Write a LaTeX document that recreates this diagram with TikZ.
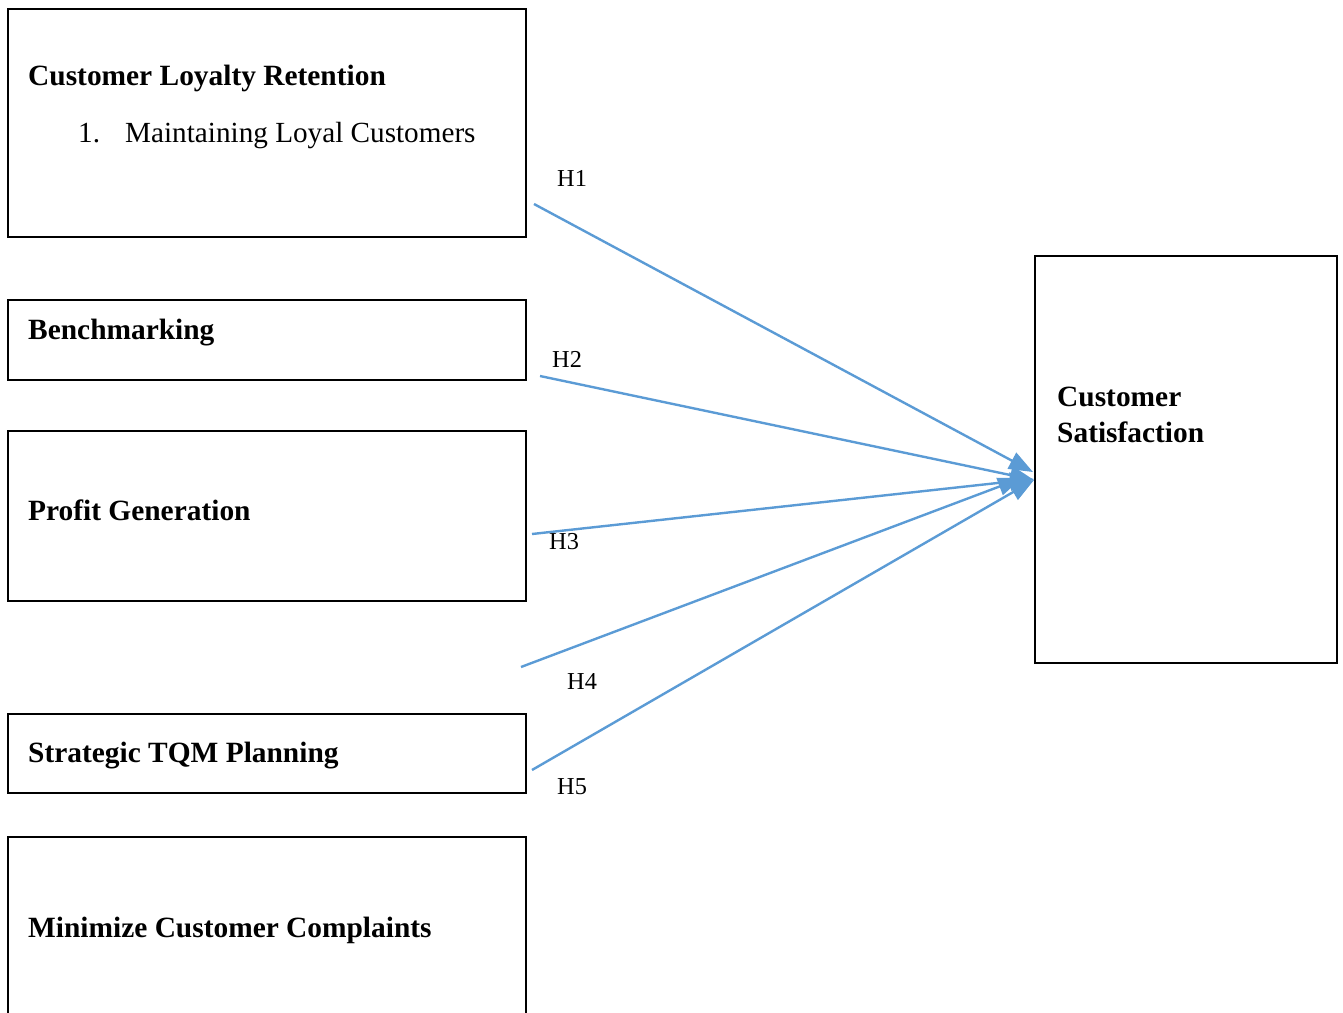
\documentclass[tikz,border=0pt]{standalone}
\usepackage{fontspec}
\setmainfont{Liberation Serif}
\usetikzlibrary{arrows.meta}
\definecolor{arrowblue}{HTML}{5B9BD5}
\begin{document}
\begin{tikzpicture}[x=1pt,y=-1pt,
  box/.style={draw=black,line width=1.8pt,rectangle,inner sep=0pt},
  ttl/.style={anchor=base west,inner sep=0pt,font=\fontsize{29.4}{35}\selectfont\bfseries},
  txt/.style={anchor=base west,inner sep=0pt,font=\fontsize{29.2}{35}\selectfont},
  hyp/.style={anchor=base west,inner sep=0pt,font=\fontsize{24.3}{28}\selectfont},
  link/.style={draw=arrowblue,line width=2.4pt,-{Triangle[length=24pt,width=18pt]}}]
\useasboundingbox (0,0) rectangle (1343,1012);
% boxes
\node[box,minimum width=518pt,minimum height=228pt] (b1) at (267,123) {};
\node[box,minimum width=518pt,minimum height=80pt] (b2) at (267,340) {};
\node[box,minimum width=518pt,minimum height=170pt] (b3) at (267,516) {};
\node[box,minimum width=518pt,minimum height=79pt] (b4) at (267,753.5) {};
\node[box,minimum width=518pt,minimum height=200pt] (b5) at (267,937) {};
\node[box,minimum width=302pt,minimum height=407pt] (cs) at (1186,459.5) {};
% texts
\node[ttl] (t1) at (28,85) {Customer Loyalty Retention};
\node[txt] (t1n) at (78,142) {1.};
\node[txt] (t1i) at (125,142) {Maintaining Loyal Customers};
\node[ttl] (t2) at (28,339) {Benchmarking};
\node[ttl] (t3) at (28,520) {Profit Generation};
\node[ttl] (t4) at (28,762) {Strategic TQM Planning};
\node[ttl] (t5) at (28,937) {Minimize Customer Complaints};
\node[ttl] (ts1) at (1057,406) {Customer};
\node[ttl] (ts2) at (1057,442) {Satisfaction};
% hypothesis labels
\node[hyp] (h1) at (557,186) {H1};
\node[hyp] (h2) at (552,367) {H2};
\node[hyp] (h3) at (549,549) {H3};
\node[hyp] (h4) at (567,689) {H4};
\node[hyp] (h5) at (557,794) {H5};
% connector ends
\coordinate (s1) at (534,204);
\coordinate (s2) at (540,376);
\coordinate (s3) at (532,534);
\coordinate (s4) at (521,667);
\coordinate (s5) at (532,770);
\coordinate (e1) at (1033,472);
\coordinate (e2) at (1034,480);
\coordinate (e3) at (1034,479);
\coordinate (e4) at (1022,478);
\coordinate (e5) at (1034,480);
\draw[link] (s1) -- (e1);
\draw[link] (s2) -- (e2);
\draw[link] (s3) -- (e3);
\draw[link] (s4) -- (e4);
\draw[link] (s5) -- (e5);
\end{tikzpicture}
\end{document}
